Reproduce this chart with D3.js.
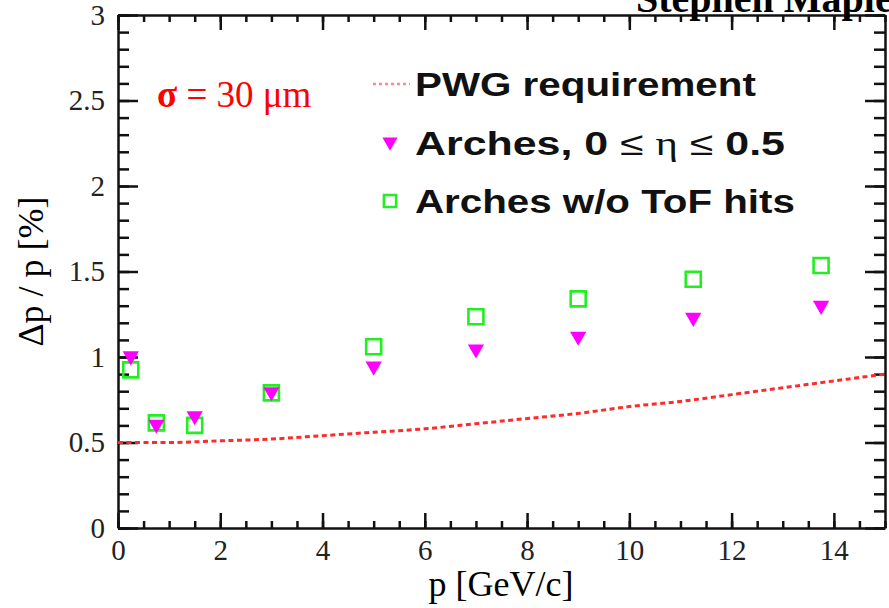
<!DOCTYPE html>
<html>
<head>
<meta charset="utf-8">
<script src="https://cdn.jsdelivr.net/npm/d3@7"></script>
<style>
  body { margin: 0; background: #fff; }
  svg { display: block; }
</style>
</head>
<body>
<svg id="chart" width="889" height="608"></svg>
<script>
// values
const momentum       = [0.25, 0.75, 1.5, 3, 5, 7, 9, 11.25, 13.75];
const archesRes      = [1.00, 0.60, 0.65, 0.79, 0.94, 1.04, 1.115, 1.225, 1.295];
const archesNoTofRes = [0.925, 0.615, 0.60, 0.79, 1.06, 1.235, 1.34, 1.455, 1.535];

const pwgMomentum    = [0, 1, 2, 3, 4, 5, 6, 7, 8, 9, 10, 11, 12, 13, 14, 15];
const pwgRequirement = [0.50, 0.50, 0.51, 0.52, 0.54, 0.56, 0.58, 0.61, 0.64, 0.67, 0.71, 0.74, 0.78, 0.82, 0.86, 0.90];

const xMajorTicks = [0, 2, 4, 6, 8, 10, 12, 14];
const xMinorTicks = d3.range(0, 15.01, 0.5);
const yMajorTicks = [0, 0.5, 1, 1.5, 2, 2.5, 3];
const yMinorTicks = d3.range(0, 3.001, 0.1);

const legendLabels = ['PWG requirement', 'Arches, 0 ≤ η ≤ 0.5', 'Arches w/o ToF hits'];

class ResolutionChart {
  constructor(el) {
    this.svg = d3.select(el);
    this.initVis();
  }

  initVis() {
    let vis = this;

    vis.frame = { left: 118, right: 885, top: 15, bottom: 528 };

    vis.x = d3.scaleLinear().domain([0, 15]).range([vis.frame.left, vis.frame.right]);
    vis.y = d3.scaleLinear().domain([0, 3]).range([vis.frame.bottom, vis.frame.top]);

    vis.lineColor   = '#ff2a2a';
    vis.triColor    = '#ff00ff';
    vis.squareColor = '#22ee22';
    vis.serif = '"Liberation Serif", "Times New Roman", serif';
    vis.sans  = '"Liberation Sans", Arial, Helvetica, sans-serif';

    vis.render();
  }

  render() {
    let vis = this;
    let f = vis.frame;

    vis.drawAxes();

    // requirement curve
    let line = d3.line()
      .x((d, i) => vis.x(pwgMomentum[i]))
      .y(d => vis.y(d))
      .curve(d3.curveMonotoneX);

    vis.svg.append('path')
      .datum(pwgRequirement)
      .attr('d', line)
      .attr('fill', 'none')
      .attr('stroke', vis.lineColor)
      .attr('stroke-width', 3)
      .attr('stroke-dasharray', '5,3.5');

    let square = d3.symbol(d3.symbolSquare, 225);
    let tri = d3.symbol(d3.symbolTriangle, 115);

    vis.svg.append('g').selectAll('path')
      .data(archesNoTofRes)
      .join('path')
        .attr('d', square)
        .attr('transform', (d, i) => `translate(${vis.x(momentum[i])},${vis.y(d)})`)
        .attr('fill', 'none')
        .attr('stroke', vis.squareColor)
        .attr('stroke-width', 2.6);

    vis.svg.append('g').selectAll('path')
      .data(archesRes)
      .join('path')
        .attr('d', tri)
        .attr('transform', (d, i) => `translate(${vis.x(momentum[i])},${vis.y(d) - 1}) rotate(180)`)
        .attr('fill', vis.triColor);

    vis.drawLegend();

    // sigma annotation
    let sig = vis.svg.append('text')
      .attr('x', 157).attr('y', 107)
      .attr('fill', '#ff0000')
      .style('font-family', vis.serif)
      .style('font-size', '37px');
    sig.append('tspan').attr('font-weight', 'bold').text('σ');
    sig.append('tspan').text(' = 30 μm');

    // axis titles
    vis.svg.append('text')
      .attr('x', 501).attr('y', 596)
      .attr('text-anchor', 'middle')
      .style('font-family', vis.serif)
      .style('font-size', '36px')
      .text('p [GeV/c]');

    vis.svg.append('text')
      .attr('transform', `translate(43,${(f.top + f.bottom) / 2}) rotate(-90)`)
      .attr('text-anchor', 'middle')
      .style('font-family', vis.serif)
      .style('font-size', '36px')
      .text('Δp / p [%]');

    // author tag, cut at the top edge
    vis.svg.append('text')
      .attr('x', 636).attr('y', 12)
      .attr('font-weight', 'bold')
      .style('font-family', vis.serif)
      .style('font-size', '40px')
      .text('Stephen Maple');
  }

  drawAxes() {
    let vis = this;
    let f = vis.frame;
    let none = () => '';

    let style = g => {
      g.selectAll('line').attr('stroke', '#111').attr('stroke-width', 2.5);
      g.selectAll('path').attr('stroke', '#111').attr('stroke-width', 2.5);
      g.selectAll('text')
        .attr('fill', '#222')
        .style('font-family', vis.serif)
        .style('font-size', '29px');
    };

    // bottom
    vis.svg.append('g')
      .attr('transform', `translate(0,${f.bottom})`)
      .call(d3.axisBottom(vis.x).tickValues(xMinorTicks).tickFormat(none).tickSize(-7).tickSizeOuter(0))
      .call(style);
    vis.svg.append('g')
      .attr('transform', `translate(0,${f.bottom})`)
      .call(d3.axisBottom(vis.x).tickValues(xMajorTicks).tickFormat(d3.format('d')).tickSize(-15).tickSizeOuter(0).tickPadding(11))
      .call(g => g.select('.domain').remove())
      .call(style);

    // top
    vis.svg.append('g')
      .attr('transform', `translate(0,${f.top})`)
      .call(d3.axisTop(vis.x).tickValues(xMinorTicks).tickFormat(none).tickSize(-7).tickSizeOuter(0))
      .call(style);
    vis.svg.append('g')
      .attr('transform', `translate(0,${f.top})`)
      .call(d3.axisTop(vis.x).tickValues(xMajorTicks).tickFormat(none).tickSize(-15).tickSizeOuter(0))
      .call(g => g.select('.domain').remove())
      .call(style);

    // left
    vis.svg.append('g')
      .attr('transform', `translate(${f.left},0)`)
      .call(d3.axisLeft(vis.y).tickValues(yMinorTicks).tickFormat(none).tickSize(-11).tickSizeOuter(0))
      .call(style);
    vis.svg.append('g')
      .attr('transform', `translate(${f.left},0)`)
      .call(d3.axisLeft(vis.y).tickValues(yMajorTicks).tickFormat(d3.format('')).tickSize(-20).tickSizeOuter(0).tickPadding(13))
      .call(g => g.select('.domain').remove())
      .call(style);

    // right
    vis.svg.append('g')
      .attr('transform', `translate(${f.right},0)`)
      .call(d3.axisRight(vis.y).tickValues(yMinorTicks).tickFormat(none).tickSize(-11).tickSizeOuter(0))
      .call(style);
    vis.svg.append('g')
      .attr('transform', `translate(${f.right},0)`)
      .call(d3.axisRight(vis.y).tickValues(yMajorTicks).tickFormat(none).tickSize(-20).tickSizeOuter(0))
      .call(g => g.select('.domain').remove())
      .call(style);
  }

  drawLegend() {
    let vis = this;
    let rows = [84, 143, 201];
    let widths = [341, 370, 380];
    let textX = 415;

    let leg = vis.svg.append('g');

    leg.append('line')
      .attr('x1', 373).attr('x2', 410)
      .attr('y1', rows[0]).attr('y2', rows[0])
      .attr('stroke', vis.lineColor)
      .attr('stroke-opacity', 0.55)
      .attr('stroke-width', 2.5)
      .attr('stroke-dasharray', '3,3');

    leg.append('path')
      .attr('d', d3.symbol(d3.symbolTriangle, 100))
      .attr('transform', `translate(390,${rows[1] - 1}) rotate(180)`)
      .attr('fill', vis.triColor);

    leg.append('path')
      .attr('d', d3.symbol(d3.symbolSquare, 150))
      .attr('transform', `translate(390,${rows[2]})`)
      .attr('fill', 'none')
      .attr('stroke', vis.squareColor)
      .attr('stroke-width', 2.5);

    legendLabels.forEach((label, i) => {
      let t = leg.append('text')
        .attr('x', textX).attr('y', rows[i] + 12)
        .attr('fill', '#111')
        .style('font-family', vis.sans)
        .style('font-size', '33px')
        .style('font-weight', 'bold');

      if (i === 1) {
        // the relation symbols are set in a lighter weight
        t.append('tspan').text('Arches, 0 ');
        t.append('tspan').style('font-weight', 'normal').text('≤ ');
        t.append('tspan').style('font-weight', 'normal')
          .style('font-family', vis.serif).text('η');
        t.append('tspan').style('font-weight', 'normal').text(' ≤ ');
        t.append('tspan').text('0.5');
      } else {
        t.text(label);
      }

      // stretch horizontally to the measured width
      let w = t.node().getComputedTextLength();
      t.attr('transform', `translate(${textX},0) scale(${widths[i] / w},1) translate(${-textX},0)`);
    });
  }
}

new ResolutionChart('#chart');
</script>
</body>
</html>
